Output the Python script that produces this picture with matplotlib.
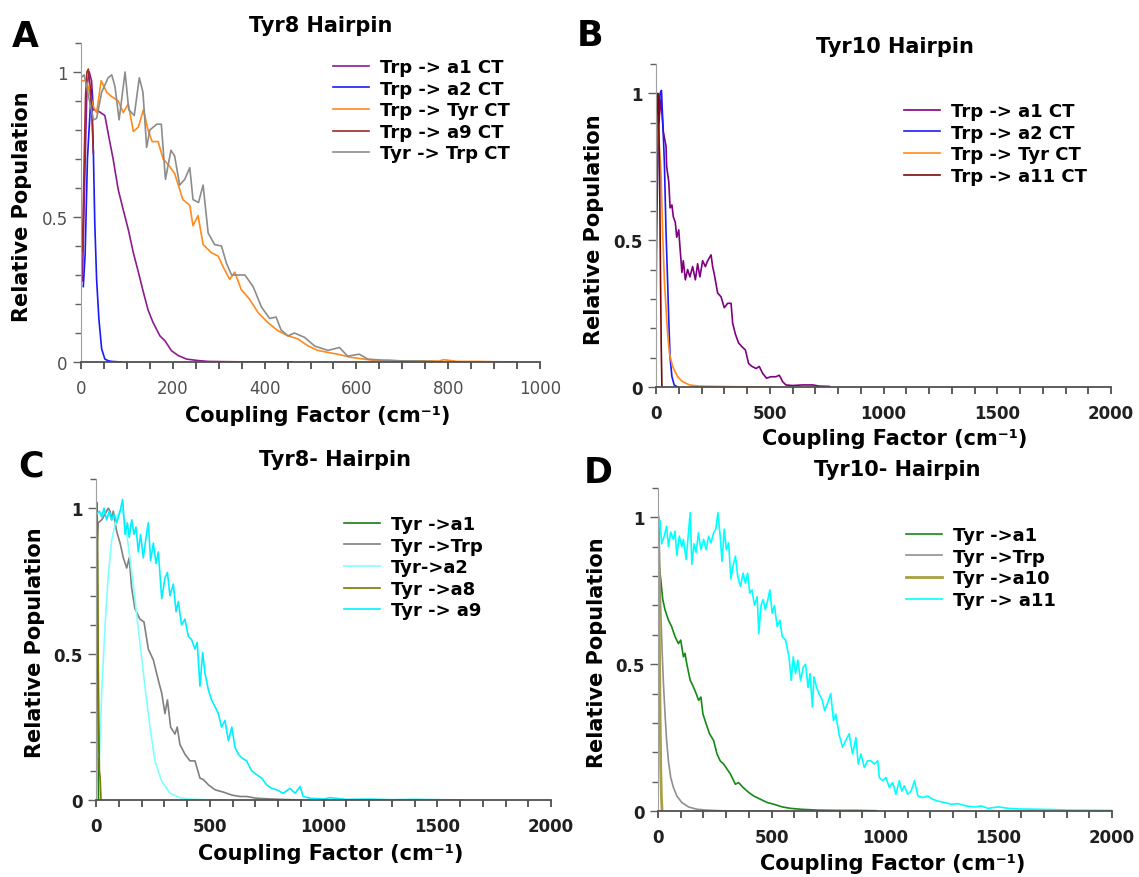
import numpy as np
import matplotlib.pyplot as plt
from matplotlib.ticker import MultipleLocator

# ---------------- dane ----------------
# A - Tyr8 Hairpin
a_a1_x = [3, 8, 13, 18, 23, 27, 38, 52, 59, 70, 81, 92, 103, 114, 125, 136, 146, 157, 172, 183, 197, 212, 230, 255, 277, 320, 380, 460]
a_a1_y = [0.28, 0.62, 0.95, 1.0, 0.97, 0.87, 0.865, 0.85, 0.79, 0.70, 0.595, 0.525, 0.457, 0.377, 0.31, 0.24, 0.18, 0.136, 0.09, 0.073, 0.039, 0.022, 0.01, 0.005, 0.002, 0.001, 0.0, 0.0]
a_a2_x = [5, 9, 14, 20, 23, 27, 30, 34, 39, 45, 52, 60, 67, 88]
a_a2_y = [0.26, 0.37, 0.70, 0.87, 0.94, 0.72, 0.48, 0.285, 0.148, 0.045, 0.01, 0.004, 0.002, 0.0]
a_tyr_x = [0, 12, 27, 34, 44, 56, 67, 81, 92, 103, 114, 125, 136, 146, 155, 168, 179, 193, 204, 222,
           237, 244, 255, 266, 284, 299, 309, 324, 335, 349, 367, 386, 407, 429, 451, 472, 494, 516, 538, 559,
           588, 617, 639, 670, 700, 740, 780, 790, 820, 860, 900, 950]
a_tyr_y = [0.97, 0.97, 0.88, 0.86, 0.97, 0.93, 0.915, 0.90, 0.86, 0.89, 0.795, 0.81, 0.87, 0.80, 0.76, 0.76, 0.70, 0.675, 0.65, 0.56,
           0.54, 0.47, 0.505, 0.405, 0.377, 0.365, 0.33, 0.285, 0.31, 0.25, 0.217, 0.17, 0.136, 0.108, 0.09, 0.08, 0.056, 0.04, 0.033, 0.027,
           0.016, 0.01, 0.005, 0.006, 0.003, 0.004, 0.003, 0.008, 0.002, 0.002, 0.001, 0.0]
a_a9_x = [3, 7, 10, 13, 16, 20, 23, 27]
a_a9_y = [0.38, 0.70, 0.92, 1.0, 1.01, 0.95, 0.88, 0.72]
a_trp_x = [0, 7, 16, 27, 34, 45, 59, 67, 74, 83, 96, 104, 116, 127, 135, 143, 150, 165, 175, 184,
           196, 204, 215, 226, 237, 244, 256, 266, 277, 291, 306, 317, 328, 342, 357, 375, 393, 411, 425, 436,
           451, 465, 487, 509, 538, 563, 581, 606, 625, 660, 700, 750, 790]
a_trp_y = [0.98, 0.99, 0.92, 0.835, 0.84, 0.93, 0.98, 0.99, 0.95, 0.835, 1.0, 0.87, 0.85, 0.98, 0.93, 0.74, 0.80, 0.82, 0.82, 0.63,
           0.73, 0.71, 0.61, 0.63, 0.67, 0.56, 0.55, 0.61, 0.445, 0.405, 0.40, 0.34, 0.30, 0.30, 0.30, 0.26, 0.19, 0.15, 0.155, 0.11,
           0.09, 0.10, 0.085, 0.055, 0.04, 0.05, 0.02, 0.027, 0.01, 0.006, 0.004, 0.003, 0.0]

# B - Tyr10 Hairpin
b_a1_x = [12, 22, 32, 44, 47, 56, 62, 70, 76, 85, 91, 100, 105, 114, 120, 129, 139, 149, 161, 173, 183,
          193, 205, 217, 227, 242, 249, 256, 271, 286, 300, 315, 330, 337, 349, 363, 378, 393, 407, 422, 440,
          454, 469, 486, 505, 527, 542, 557, 571, 600, 645, 689, 718, 762]
b_a1_y = [0.9, 0.98, 0.87, 0.82, 0.75, 0.70, 0.61, 0.62, 0.58, 0.56, 0.51, 0.535, 0.48, 0.39, 0.43, 0.365, 0.40, 0.375, 0.41, 0.365, 0.42,
          0.375, 0.43, 0.41, 0.43, 0.45, 0.41, 0.385, 0.32, 0.307, 0.27, 0.285, 0.285, 0.217, 0.18, 0.15, 0.137, 0.126, 0.08, 0.07, 0.063,
          0.07, 0.046, 0.03, 0.035, 0.035, 0.04, 0.018, 0.007, 0.005, 0.007, 0.007, 0.003, 0.002]
b_a2_x = [0, 2, 6, 12, 18, 24, 30, 37, 44, 51, 56, 62, 70, 80, 95]
b_a2_y = [0.23, 0.45, 0.70, 0.93, 1.0, 1.01, 0.90, 0.76, 0.53, 0.36, 0.23, 0.10, 0.035, 0.007, 0.0]
b_tyr_x = [0, 3, 8, 15, 22, 29, 37, 44, 51, 59, 73, 95, 117, 147, 190, 260, 350, 513]
b_tyr_y = [0.5, 0.95, 0.9, 0.82, 0.73, 0.53, 0.36, 0.27, 0.18, 0.115, 0.07, 0.035, 0.018, 0.007, 0.003, 0.002, 0.001, 0.0]
b_a11_x = [0, 4, 8, 12, 16, 20, 23, 26]
b_a11_y = [0.68, 0.95, 1.0, 0.92, 0.7, 0.36, 0.14, 0.0]

# C - Tyr8- Hairpin
c_a1_x = [0, 2, 5, 8, 11]
c_a1_y = [0.0, 0.95, 1.0, 0.5, 0.0]
c_trp_x = [3, 10, 25, 40, 54, 62, 69, 76, 91, 106, 120, 135, 146, 157, 171, 193, 211, 230, 252, 274,
           289, 303, 314, 328, 347, 357, 369, 391, 413, 435, 457, 472, 494, 523, 560, 597, 633, 662, 706, 780, 900]
c_trp_y = [0.85, 0.95, 0.96, 0.98, 1.0, 0.99, 0.96, 0.99, 0.92, 0.88, 0.83, 0.795, 0.83, 0.725, 0.656, 0.62, 0.61, 0.517, 0.48, 0.41,
           0.366, 0.296, 0.343, 0.25, 0.226, 0.25, 0.19, 0.157, 0.134, 0.134, 0.075, 0.07, 0.052, 0.035, 0.027, 0.017, 0.012, 0.012, 0.006, 0.003, 0.0]
c_a2_x = [15, 18, 25, 40, 54, 69, 91, 113, 128, 149, 171, 193, 215, 237, 259, 289, 325, 369, 413, 486, 560]
c_a2_y = [0.15, 0.2, 0.37, 0.6, 0.77, 0.89, 0.97, 1.0, 0.95, 0.83, 0.69, 0.54, 0.39, 0.25, 0.134, 0.064, 0.023, 0.008, 0.003, 0.001, 0.0]
c_a8_x = [0, 3, 6, 9, 12, 15, 18, 22]
c_a8_y = [0.02, 1.02, 0.95, 0.55, 0.3, 0.1, 0.08, 0.0]
c_a9_x = [3, 15, 25, 35, 47, 58, 69, 79, 91, 106, 117, 128, 138, 146, 157, 167, 176, 186, 196, 208,
          220, 230, 240, 252, 264, 274, 289, 303, 314, 325, 340, 352, 362, 376, 391, 406, 420, 435, 445, 457,
          469, 479, 494, 508, 523, 538, 552, 567, 582, 597, 611, 626, 640, 662, 684, 706, 728, 750, 772, 794,
          823, 853, 875, 897, 911, 941, 1000, 1028, 1100, 1200, 1300, 1400, 1500, 1610]
c_a9_y = [0.98, 0.99, 0.97, 1.0, 0.96, 0.99, 0.96, 0.98, 0.95, 0.99, 1.03, 0.91, 0.95, 0.90, 0.96, 0.91, 0.935, 0.85, 0.91, 0.83,
          0.90, 0.95, 0.82, 0.88, 0.81, 0.85, 0.69, 0.76, 0.78, 0.70, 0.74, 0.645, 0.68, 0.60, 0.62, 0.56, 0.55, 0.517, 0.54, 0.39,
          0.506, 0.435, 0.377, 0.343, 0.32, 0.296, 0.25, 0.273, 0.203, 0.25, 0.18, 0.157, 0.145, 0.134, 0.10, 0.087, 0.075, 0.052, 0.04, 0.035,
          0.023, 0.04, 0.023, 0.046, 0.012, 0.006, 0.003, 0.008, 0.002, 0.003, 0.001, 0.002, 0.001, 0.0]

# D - Tyr10- Hairpin
d_a1_x = [0, 6, 12, 21, 31, 46, 60, 75, 90, 100, 112, 119, 127, 142, 153, 168, 179, 189, 198, 212,
          227, 245, 260, 274, 289, 304, 319, 341, 355, 375, 400, 422, 451, 481, 510, 547, 584, 628, 702, 790, 879, 960]
d_a1_y = [0.99, 0.83, 0.79, 0.72, 0.685, 0.65, 0.628, 0.594, 0.57, 0.582, 0.525, 0.537, 0.50, 0.445, 0.428, 0.40, 0.377, 0.388, 0.33, 0.297,
          0.263, 0.24, 0.194, 0.171, 0.16, 0.143, 0.126, 0.091, 0.097, 0.08, 0.063, 0.051, 0.04, 0.029, 0.023, 0.014, 0.009, 0.006, 0.003, 0.002, 0.002, 0.001]
d_trp_x = [3, 12, 18, 24, 31, 38, 46, 56, 68, 83, 105, 134, 171, 215, 274, 400, 500]
d_trp_y = [1.0, 0.685, 0.548, 0.434, 0.33, 0.24, 0.17, 0.114, 0.08, 0.051, 0.029, 0.014, 0.006, 0.003, 0.001, 0.0, 0.0]
d_a10_x = [0, 3, 6, 9, 12, 15, 18]
d_a10_y = [1.0, 0.9, 0.6, 0.35, 0.15, 0.05, 0.0]
d_a11_x = [0, 9, 16, 27, 38, 46, 56, 68, 75, 83, 94, 105, 112, 124, 134, 142, 149, 159, 168, 178,
           189, 201, 212, 223, 233, 245, 255, 264, 274, 282, 292, 301, 311, 321, 330, 341, 351, 363, 375, 385,
           395, 404, 414, 425, 437, 444, 454, 463, 473, 484, 493, 503, 513, 525, 537, 547, 562, 577, 587, 596,
           606, 616, 628, 640, 650, 661, 670, 680, 687, 699, 709, 724, 734, 746, 761, 773, 783, 798, 813, 827,
           842, 857, 872, 882, 894, 909, 923, 938, 953, 968, 975, 990, 1004, 1019, 1034, 1048, 1063, 1074, 1085, 1100,
           1115, 1130, 1145, 1167, 1189, 1210, 1233, 1262, 1292, 1321, 1358, 1395, 1425, 1454, 1498, 1543, 1587, 1661, 1735, 1808, 2000]
d_a11_y = [0.96, 0.99, 0.91, 0.935, 0.97, 0.90, 0.95, 0.925, 0.953, 0.87, 0.936, 0.90, 0.925, 0.856, 0.947, 1.016, 0.84, 0.91, 0.88, 0.947,
           0.89, 0.925, 0.89, 0.936, 0.913, 0.947, 0.96, 1.016, 0.936, 0.85, 0.96, 0.89, 0.913, 0.79, 0.833, 0.868, 0.80, 0.765, 0.81, 0.776,
           0.81, 0.742, 0.753, 0.70, 0.73, 0.605, 0.70, 0.72, 0.685, 0.72, 0.753, 0.673, 0.70, 0.628, 0.65, 0.594, 0.582, 0.525, 0.445, 0.525,
           0.468, 0.514, 0.445, 0.49, 0.50, 0.42, 0.468, 0.354, 0.457, 0.42, 0.40, 0.377, 0.342, 0.365, 0.40, 0.308, 0.33, 0.26, 0.217, 0.24,
           0.263, 0.194, 0.25, 0.16, 0.194, 0.148, 0.171, 0.171, 0.16, 0.171, 0.114, 0.103, 0.114, 0.08, 0.097, 0.057, 0.103, 0.068, 0.086, 0.057,
           0.068, 0.103, 0.051, 0.046, 0.051, 0.04, 0.034, 0.029, 0.023, 0.025, 0.017, 0.014, 0.017, 0.009, 0.014, 0.009, 0.007, 0.006, 0.005, 0.003, 0.002]

# ---------------- rysowanie ----------------
W, H = 1139, 878
fig = plt.figure(figsize=(W / 100, H / 100), dpi=100)

def px_axes(left, right, y0, top):
    # pozycja osi w pikselach -> ulamki figury
    return fig.add_axes([left / W, (H - y0) / H, (right - left) / W, (y0 - top) / H])

def ftext(x, y, s, **kw):
    fig.text(x / W, 1 - y / H, s, ha='center', va='center', **kw)

def styl(ax, xmax, major, minor, bold_ticks=True):
    ax.set_xlim(0, xmax)
    ax.set_ylim(0, 1.1)
    ax.spines['top'].set_visible(False)
    ax.spines['right'].set_visible(False)
    ax.spines['left'].set_color('#a0a0a0')
    ax.spines['bottom'].set_color('#505050')
    ax.spines['bottom'].set_linewidth(1.3)
    ax.xaxis.set_major_locator(MultipleLocator(major))
    ax.xaxis.set_minor_locator(MultipleLocator(minor))
    ax.yaxis.set_major_locator(MultipleLocator(0.5))
    ax.yaxis.set_minor_locator(MultipleLocator(0.1))
    ax.tick_params(axis='x', which='both', direction='out', length=5, width=1.2, color='#404040', pad=7)
    ax.tick_params(axis='y', which='major', direction='out', length=6, width=1.0, color='#606060')
    ax.tick_params(axis='y', which='minor', direction='out', length=4, width=1.0, color='#606060')
    ax.set_yticks([0, 0.5, 1])
    ax.set_yticklabels(['0', '0.5', '1'])
    for lab in ax.get_xticklabels() + ax.get_yticklabels():
        lab.set_fontsize(12)
        if bold_ticks:
            lab.set_fontweight('bold')
            lab.set_color('#202020')
        else:
            lab.set_color('#505050')

def legenda(ax, x, y):
    ax.legend(loc='upper left', bbox_to_anchor=(x / W, 1 - y / H), bbox_transform=fig.transFigure,
              frameon=False, borderpad=0, borderaxespad=0, handlelength=2.0, handletextpad=0.6,
              labelspacing=0.2, prop={'weight': 'bold', 'size': 13})

xlab = 'Coupling Factor (cm⁻¹)'
ylab = 'Relative Population'
lw = 1.2

# panel A
ax = px_axes(81, 540, 363, 44)
ax.plot(a_a1_x, a_a1_y, color='#8b1c8f', lw=lw, label='Trp -> a1 CT')
ax.plot(a_a2_x, a_a2_y, color='#1a1aff', lw=lw, label='Trp -> a2 CT')
ax.plot(a_tyr_x, a_tyr_y, color='#ff8a1e', lw=lw, label='Trp -> Tyr CT')
ax.plot(a_a9_x, a_a9_y, color='#a02828', lw=lw, label='Trp -> a9 CT')
ax.plot(a_trp_x, a_trp_y, color='#8c8c8c', lw=lw, label='Tyr -> Trp CT')
styl(ax, 1000, 200, 50, bold_ticks=False)
legenda(ax, 333, 59)
ftext(321, 26, 'Tyr8 Hairpin', fontsize=15, fontweight='bold')
ftext(318, 416, xlab, fontsize=15, fontweight='bold')
ftext(22, 207, ylab, fontsize=15, fontweight='bold', rotation=90)
ftext(25, 37, 'A', fontsize=25, fontweight='bold')

# panel B
ax = px_axes(656, 1111, 388, 65)
ax.plot(b_a1_x, b_a1_y, color='#800080', lw=lw, label='Trp -> a1 CT')
ax.plot(b_a2_x, b_a2_y, color='#1a1aff', lw=lw, label='Trp -> a2 CT')
ax.plot(b_tyr_x, b_tyr_y, color='#ff8a1e', lw=lw, label='Trp -> Tyr CT')
ax.plot(b_a11_x, b_a11_y, color='#7a0a0a', lw=lw, label='Trp -> a11 CT')
styl(ax, 2000, 500, 100)
legenda(ax, 904, 103)
ftext(895, 47, 'Tyr10 Hairpin', fontsize=15, fontweight='bold')
ftext(895, 439, xlab, fontsize=15, fontweight='bold')
ftext(594, 230, ylab, fontsize=15, fontweight='bold', rotation=90)
ftext(590, 36, 'B', fontsize=25, fontweight='bold')

# panel C
ax = px_axes(96, 551, 801, 480)
ax.plot(c_a1_x, c_a1_y, color='#1a7a1a', lw=lw, label='Tyr ->a1')
ax.plot(c_trp_x, c_trp_y, color='#808080', lw=lw, label='Tyr ->Trp')
ax.plot(c_a2_x, c_a2_y, color='#80ffff', lw=lw, label='Tyr->a2')
ax.plot(c_a8_x, c_a8_y, color='#7a7a00', lw=lw, label='Tyr ->a8')
ax.plot(c_a9_x, c_a9_y, color='#00f0ff', lw=lw, label='Tyr -> a9')
styl(ax, 2000, 500, 100)
legenda(ax, 344, 516)
ftext(335, 460, 'Tyr8- Hairpin', fontsize=15, fontweight='bold')
ftext(331, 854, xlab, fontsize=15, fontweight='bold')
ftext(35, 643, ylab, fontsize=15, fontweight='bold', rotation=90)
ftext(31, 467, 'C', fontsize=25, fontweight='bold')

# panel D
ax = px_axes(658, 1112, 812, 489)
ax.plot(d_a1_x, d_a1_y, color='#138a13', lw=lw, label='Tyr ->a1')
ax.plot(d_trp_x, d_trp_y, color='#909090', lw=lw, label='Tyr ->Trp')
ax.plot(d_a10_x, d_a10_y, color='#a8a040', lw=lw + 0.8, label='Tyr ->a10')
ax.plot(d_a11_x, d_a11_y, color='#00ffff', lw=lw, label='Tyr -> a11')
styl(ax, 2000, 500, 100)
legenda(ax, 906, 527)
ftext(897, 470, 'Tyr10- Hairpin', fontsize=15, fontweight='bold')
ftext(893, 864, xlab, fontsize=15, fontweight='bold')
ftext(597, 653, ylab, fontsize=15, fontweight='bold', rotation=90)
ftext(598, 473, 'D', fontsize=25, fontweight='bold')

plt.savefig('out.png', dpi=100)
